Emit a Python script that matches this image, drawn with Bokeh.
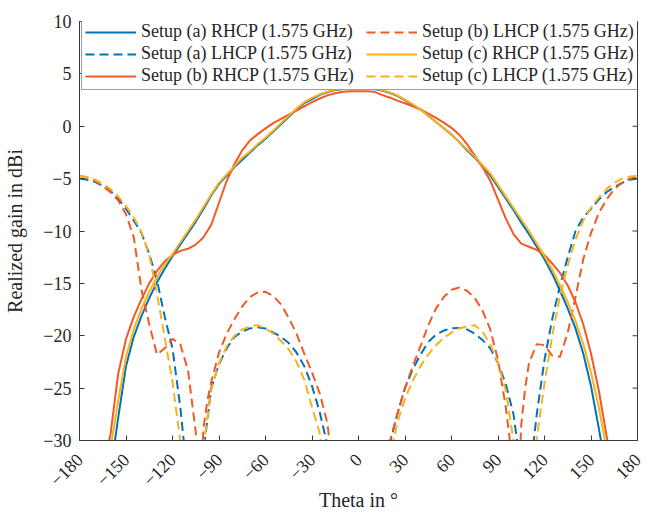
import math
from bokeh.plotting import figure
from bokeh.models import Legend, LegendItem, FixedTicker, Range1d
from bokeh.embed import file_html
from bokeh.resources import INLINE

# ---------------- data ----------------
theta = list(range(-180, 181, 5))

rhcp_a = [-46, -44, -41, -37, -33, -27.8, -22.9, -20.1, -18.1, -16.4, -14.9, -13.6, -12.4,
          -11.3, -10.2, -9.1, -7.9, -6.6, -5.5, -4.7, -3.9, -3.2, -2.5, -1.8, -1.2, -0.5,
          0.2, 0.9, 1.6, 2.2, 2.6, 3.0, 3.25, 3.45, 3.55, 3.6, 3.6, 3.6, 3.55, 3.4, 3.2,
          2.9, 2.5, 2.05, 1.6, 1.0, 0.4, -0.2, -0.8, -1.5, -2.3, -3.0, -3.8, -4.7, -5.8,
          -6.9, -8.0, -9.2, -10.3, -11.5, -12.7, -14.1, -15.7, -17.4, -19.3, -21.7, -24.8,
          -28.8, -33, -37, -41, -44, -46]

rhcp_b = [-42, -39, -36, -33, -29.4, -23.6, -20.3, -18.2, -16.5, -15.0, -13.8, -12.9, -12.3,
          -11.9, -11.7, -11.3, -10.6, -9.4, -7.3, -5.2, -3.6, -2.3, -1.35, -0.75, -0.2, 0.3,
          0.7, 1.1, 1.5, 1.9, 2.3, 2.65, 2.95, 3.15, 3.3, 3.35, 3.35, 3.35, 3.3, 3.0, 2.75,
          2.45, 2.2, 1.9, 1.6, 1.2, 0.8, 0.35, -0.15, -0.8, -1.7, -2.8, -3.9, -5.2, -7.0,
          -8.8, -10.3, -11.2, -11.5, -11.8, -12.3, -13.1, -14.0, -15.2, -16.8, -18.9, -21.7,
          -25.2, -29.5, -34, -38, -41, -43]

rhcp_c = [-44, -42, -39, -35, -30.8, -26.2, -22.0, -19.4, -17.4, -15.8, -14.4, -13.2, -12.2,
          -11.1, -10.0, -8.9, -7.7, -6.5, -5.4, -4.6, -3.8, -3.0, -2.4, -1.7, -1.1, -0.4,
          0.3, 1.0, 1.7, 2.3, 2.7, 3.05, 3.3, 3.5, 3.6, 3.65, 3.65, 3.65, 3.6, 3.45, 3.25,
          2.95, 2.55, 2.1, 1.6, 1.0, 0.4, -0.2, -0.8, -1.5, -2.2, -2.9, -3.7, -4.5, -5.6,
          -6.7, -7.8, -8.9, -10.0, -11.2, -12.4, -13.7, -15.2, -16.8, -18.6, -20.8, -23.5,
          -26.8, -30.8, -35, -39, -42, -44]

lhcp_a = [-5.0, -5.1, -5.3, -5.7, -6.2, -6.9, -7.9, -9.0, -10.2, -12.2, -14.7, -18.2, -21.2,
          -26.8, -34, -40, -31, -25.0, -22.7, -21.2, -20.1, -19.6, -19.3, -19.2, -19.3, -19.7,
          -20.1, -20.7, -21.6, -22.9, -24.8, -27.3, -30.5, -36, -42, -47, -50, -46, -40, -34,
          -30.5, -27.5, -25.0, -23.2, -21.8, -20.6, -19.9, -19.5, -19.3, -19.25, -19.4, -19.8,
          -20.4, -21.2, -22.6, -24.6, -27.5, -33, -34, -27.5, -22.3, -18.4, -15.2, -12.5,
          -10.0, -8.7, -7.9, -7.0, -6.3, -5.8, -5.4, -5.1, -5.0]

lhcp_c = [-4.75, -4.85, -5.1, -5.5, -6.0, -6.7, -7.6, -8.7, -10.1, -12.3, -16.0, -20.2, -24.4,
          -30.0, -38, -40, -30.5, -25.2, -22.6, -21.0, -20.0, -19.4, -19.1, -19.0, -19.3,
          -19.8, -20.5, -21.3, -22.5, -24.2, -26.8, -29.3, -34, -40, -45, -48, -50, -47, -42,
          -36, -32, -28.3, -26.0, -24.3, -22.9, -21.8, -20.9, -20.2, -19.7, -19.3, -19.1,
          -19.0, -19.6, -20.8, -22.6, -25.2, -30.0, -37, -38, -29.8, -24.5, -20.0, -16.2,
          -13.3, -10.8, -9.0, -7.8, -6.8, -6.0, -5.4, -5.0, -4.8, -4.75]

theta_lhcp_b = [-180, -175, -170, -165, -160, -155, -150, -145, -140, -135, -130, -125, -120,
                -115, -110, -105, -102.5, -100, -97.5, -95, -90, -85, -80, -75, -70, -65, -60,
                -55, -50, -45, -40, -35, -30, -25, -20, -15, -10, -5, 0, 5, 10, 15, 20, 25, 30,
                35, 40, 45, 50, 55, 60, 65, 70, 75, 80, 85, 90, 95, 97.5, 100, 102.5, 105,
                107.5, 110, 115, 120, 125, 130, 135, 140, 145, 150, 155, 160, 165, 170, 175, 180]
lhcp_b = [-4.75, -4.9, -5.2, -5.7, -6.3, -7.1, -8.4, -10.6, -15.6, -18.9, -21.8, -21.2, -20.3,
          -20.8, -23.3, -29.2, -36, -28.8, -26.2, -24.4, -21.6, -19.8, -18.4, -17.2, -16.3,
          -15.85, -15.8, -16.2, -17.0, -18.3, -19.8, -21.7, -23.5, -25.5, -28.4, -35, -42, -47,
          -50, -46, -40, -34, -30.2, -27.5, -25.0, -22.9, -21.0, -19.0, -17.4, -16.3, -15.6,
          -15.4, -15.7, -16.4, -17.6, -19.4, -22.3, -26.8, -29.8, -36, -37, -28.5, -25.0,
          -22.6, -20.8, -20.9, -21.9, -22.0, -19.7, -16.3, -12.7, -10.2, -8.3, -7.0, -6.0,
          -5.4, -5.0, -4.8]

x_ticks = [-180, -150, -120, -90, -60, -30, 0, 30, 60, 90, 120, 150, 180]
x_labels = ["\u2212180", "\u2212150", "\u2212120", "\u221290", "\u221260", "\u221230", "0",
            "30", "60", "90", "120", "150", "180"]
y_ticks = [-30, -25, -20, -15, -10, -5, 0, 5, 10]
y_labels = ["\u221230", "\u221225", "\u221220", "\u221215", "\u221210", "\u22125", "0", "5", "10"]

names = ["Setup (a) RHCP (1.575 GHz)", "Setup (a) LHCP (1.575 GHz)",
         "Setup (b) RHCP (1.575 GHz)", "Setup (b) LHCP (1.575 GHz)",
         "Setup (c) RHCP (1.575 GHz)", "Setup (c) LHCP (1.575 GHz)"]

# ---------------- figure ----------------
FONT = "Liberation Serif"
TXT = "#262626"
AX = "#3a3a3a"
BLUE, RED, YEL = "#0072BD", "#F25A24", "#FBB216"

p = figure(width=659, height=515, x_range=Range1d(-180, 180), y_range=Range1d(-30, 10),
           output_backend="svg", toolbar_location=None,
           min_border_left=79, min_border_right=22, min_border_top=21, min_border_bottom=75)
p.background_fill_color = "white"
p.border_fill_color = "white"
p.outline_line_color = AX
p.outline_line_width = 1
p.xgrid.visible = False
p.ygrid.visible = False

series = [
    (theta, rhcp_a, BLUE, "solid"),
    (theta, lhcp_a, BLUE, "9 5"),
    (theta, rhcp_b, RED, "solid"),
    (theta_lhcp_b, lhcp_b, RED, "9 5"),
    (theta, rhcp_c, YEL, "solid"),
    (theta, lhcp_c, YEL, "9 5"),
]
items = []
for (xs, ys, col, dash), name in zip(series, names):
    r = p.line(xs, ys, line_color=col, line_width=2, line_dash=dash)
    items.append(LegendItem(label=name, renderers=[r]))

# inward tick marks on the right edge of the box (clipped to the frame)
p.scatter(x=[x_ticks[-1]] * len(y_ticks), y=y_ticks, marker="dash", size=10,
          line_color=AX, line_width=1)

for ax in (p.xaxis[0], p.yaxis[0]):
    ax.axis_line_color = AX
    ax.major_tick_line_color = AX
    ax.major_tick_in = 5
    ax.major_tick_out = 0
    ax.minor_tick_line_color = None
    ax.major_label_text_font = FONT
    ax.major_label_text_font_size = "18px"
    ax.major_label_text_color = TXT
    ax.axis_label_text_font = FONT
    ax.axis_label_text_font_size = "20px"
    ax.axis_label_text_font_style = "normal"
    ax.axis_label_text_color = TXT

p.xaxis.ticker = FixedTicker(ticks=x_ticks)
p.xaxis.major_label_overrides = {t: l for t, l in zip(x_ticks, x_labels)}
p.xaxis.major_label_orientation = math.pi / 4
p.xaxis.major_label_standoff = 16
p.xaxis.axis_label = "Theta in \u00b0"
p.xaxis.axis_label_standoff = -6

p.yaxis.ticker = FixedTicker(ticks=y_ticks)
p.yaxis.major_label_overrides = {t: l for t, l in zip(y_ticks, y_labels)}
p.yaxis.axis_label = "Realized gain in dBi"
p.yaxis.major_label_standoff = 8
p.yaxis.axis_label_standoff = 14

legend = Legend(items=items, location=(2, 350), orientation="vertical", nrows=3,
                margin=0, padding=3, spacing=1, glyph_width=51, glyph_height=20,
                label_standoff=5, label_width=224, label_height=20,
                label_text_font=FONT, label_text_font_size="18px", label_text_color=TXT,
                border_line_color=AX, border_line_width=1,
                background_fill_color="white", background_fill_alpha=1)
p.add_layout(legend, "center")

open("out.html", "w").write(file_html(p, INLINE))
